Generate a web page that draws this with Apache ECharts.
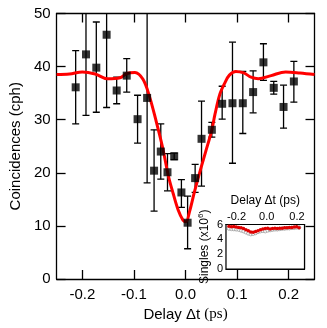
<!DOCTYPE html>
<html>
<head>
<meta charset="utf-8">
<script src="https://cdn.jsdelivr.net/npm/echarts@6/dist/echarts.min.js"></script>
<style>
html,body{margin:0;padding:0;background:#fff;}
#c{width:327px;height:328px;}
</style>
</head>
<body>
<div id="c"></div>
<script>
// ---- main data: coincidences vs delay ----
const delay = [-0.213, -0.193, -0.173, -0.153, -0.1335, -0.114, -0.093, -0.0745, -0.061, -0.048, -0.035, -0.022, -0.008, 0.004, 0.0186, 0.031, 0.051, 0.071, 0.091, 0.111, 0.131, 0.151, 0.171, 0.190, 0.210];
const coincidences = [36.1, 42.3, 39.8, 46.0, 35.5, 38.3, 30.1, 34.1, 20.4, 24.0, 20.1, 23.1, 16.3, 10.6, 19.0, 26.4, 28.1, 33.0, 33.1, 33.1, 35.2, 40.8, 36.0, 32.4, 37.2];
const errLow = [29.2, 30.8, 31.4, 32.3, 33.0, 35.2, 25.6, 18.1, 12.8, 18.8, 16.6, 22.5, 13.5, 5.7, 16.3, 17.5, 26.7, 30.1, 21.8, 27.4, 31.3, 37.4, 34.8, 28.4, 33.3];
const errHigh = [43.0, 53.8, 48.4, 59.7, 38.0, 41.5, 34.6, 50.2, 28.1, 29.2, 23.6, 23.7, 18.7, 15.6, 21.6, 33.5, 29.5, 36.3, 44.6, 39.1, 39.2, 44.3, 37.2, 36.5, 41.0];

// ---- fit curve ----
const fitDelay = [-0.25, -0.225, -0.2, -0.175, -0.151, -0.127, -0.114, -0.098, -0.0825, -0.070, -0.0577, -0.045, -0.033, -0.0237, -0.0143, -0.005, 0.001, 0.0075, 0.017, 0.029, 0.0385, 0.051, 0.057, 0.0665, 0.076, 0.085, 0.0975, 0.113, 0.127, 0.141, 0.166, 0.194, 0.222, 0.25];
const fitValue = [38.5, 38.6, 39.0, 38.6, 37.7, 37.9, 38.7, 38.9, 37.6, 34.4, 30.0, 25.0, 19.3, 16.0, 13.0, 11.1, 10.8, 12.6, 16.3, 20.6, 23.8, 28.1, 31.0, 34.8, 36.9, 38.4, 39.1, 38.8, 38.0, 37.7, 38.3, 39.0, 38.8, 38.5];

// ---- inset: singles ----
const insetDelay = [-0.25, -0.234, -0.218, -0.202, -0.186, -0.17, -0.154, -0.138, -0.122, -0.106, -0.09, -0.074, -0.058, -0.042, -0.026, -0.01, 0.006, 0.022, 0.038, 0.054, 0.07, 0.086, 0.102, 0.118, 0.134, 0.15, 0.166, 0.182, 0.198, 0.214];
const singlesRed = [5.75, 5.7, 5.72, 5.65, 5.6, 5.55, 5.45, 5.3, 5.15, 5.0, 4.95, 5.05, 5.15, 5.3, 5.4, 5.45, 5.5, 5.4, 5.45, 5.5, 5.45, 5.5, 5.5, 5.55, 5.55, 5.6, 5.6, 5.65, 5.7, 5.55];
const singlesGray = [5.45, 5.4, 5.38, 5.35, 5.3, 5.2, 5.1, 4.95, 4.8, 4.7, 4.75, 4.85, 5.0, 5.1, 5.15, 5.1, 5.2, 5.25, 5.3, 5.35, 5.35, 5.4, 5.45, 5.45, 5.5, 5.5, 5.55, 5.55, 5.6, 5.6];

const mainXTicks = [-0.2, -0.1, 0, 0.1, 0.2];
const insetXTicks = [-0.2, 0, 0.2];

const FONT = 'Liberation Sans, Arial, sans-serif';
const chart = echarts.init(document.getElementById('c'), null, {renderer: 'canvas'});

function fmt(v) { return (Math.abs(v) < 1e-9 ? 0 : v).toFixed(1); }

const errData = delay.map((d, i) => [d, errLow[i], errHigh[i]]);
const ptData = delay.map((d, i) => [d, coincidences[i]]);
const fitData = fitDelay.map((d, i) => [d, fitValue[i]]);
const redData = insetDelay.map((d, i) => [d, singlesRed[i]]);
const grayData = insetDelay.map((d, i) => [d, singlesGray[i]]);

function errRender(params, api) {
  const x = api.value(0), lo = api.value(1), hi = api.value(2);
  const a = api.coord([x, lo]), b = api.coord([x, hi]);
  const w = 3.5;
  const st = {stroke: '#000', lineWidth: 1.3};
  return {type: 'group', children: [
    {type: 'line', shape: {x1: a[0], y1: a[1], x2: b[0], y2: b[1]}, style: st},
    {type: 'line', shape: {x1: a[0] - w, y1: a[1], x2: a[0] + w, y2: a[1]}, style: st},
    {type: 'line', shape: {x1: b[0] - w, y1: b[1], x2: b[0] + w, y2: b[1]}, style: st}
  ]};
}

const axLine = {show: true, onZero: false, lineStyle: {color: '#000', width: 1.3}};
const inLine = {show: true, onZero: false, lineStyle: {color: '#000', width: 1.2}};

const option = {
  animation: false,
  backgroundColor: '#fff',
  grid: [
    {left: 48, top: 13.5, width: 266.5, height: 265.5, containLabel: false},
    {left: 226, top: 224.5, width: 78.5, height: 44.5, show: true, backgroundColor: '#fff', borderColor: '#000', borderWidth: 1.2, z: 5}
  ],
  xAxis: [
    {
      gridIndex: 0, type: 'value', min: -0.25, max: 0.25, position: 'bottom',
      axisLine: axLine,
      axisTick: {show: true, inside: true, length: 9, customValues: mainXTicks, lineStyle: {color: '#000', width: 1.3}},
      axisLabel: {show: true, customValues: mainXTicks, formatter: fmt, color: '#000', fontFamily: FONT, fontSize: 15, margin: 8},
      splitLine: {show: false},
      name: '{a|Delay \u0394t }{b|(ps)}', nameLocation: 'middle', nameGap: 27,
      nameTextStyle: {rich: {a: {fontFamily: FONT, fontSize: 15, color: '#000'}, b: {fontFamily: 'Liberation Serif, Times New Roman, serif', fontSize: 15, color: '#000'}}}
    },
    {
      gridIndex: 0, type: 'value', min: -0.25, max: 0.25, position: 'top',
      axisLine: axLine,
      axisTick: {show: true, inside: true, length: 9, customValues: mainXTicks, lineStyle: {color: '#000', width: 1.3}},
      axisLabel: {show: false}, splitLine: {show: false}
    },
    {
      gridIndex: 1, type: 'value', min: -0.27, max: 0.25, position: 'top',
      axisLine: inLine,
      axisTick: {show: true, inside: true, length: 3, customValues: insetXTicks, lineStyle: {color: '#000'}},
      axisLabel: {show: true, customValues: insetXTicks, formatter: fmt, color: '#000', fontFamily: FONT, fontSize: 11, margin: 2},
      splitLine: {show: false},
      name: 'Delay \u0394t (ps)', nameLocation: 'middle', nameGap: 18,
      nameTextStyle: {fontFamily: FONT, fontSize: 12, color: '#000'}
    },
    {
      gridIndex: 1, type: 'value', min: -0.27, max: 0.25, position: 'bottom',
      axisLine: inLine,
      axisTick: {show: true, inside: true, length: 3, customValues: insetXTicks, lineStyle: {color: '#000'}},
      axisLabel: {show: false}, splitLine: {show: false}
    }
  ],
  yAxis: [
    {
      gridIndex: 0, type: 'value', min: 0, max: 50, interval: 10, position: 'left',
      axisLine: axLine,
      axisTick: {show: true, inside: true, length: 9, lineStyle: {color: '#000', width: 1.3}},
      axisLabel: {color: '#000', fontFamily: FONT, fontSize: 15, margin: 6},
      splitLine: {show: false},
      name: 'Coincidences (cph)', nameLocation: 'middle', nameGap: 29,
      nameTextStyle: {fontFamily: FONT, fontSize: 15, color: '#000'}
    },
    {
      gridIndex: 0, type: 'value', min: 0, max: 50, interval: 10, position: 'right',
      axisLine: axLine,
      axisTick: {show: true, inside: true, length: 9, lineStyle: {color: '#000', width: 1.3}},
      axisLabel: {show: false}, splitLine: {show: false}
    },
    {
      gridIndex: 1, type: 'value', min: 0, max: 6, interval: 2, position: 'left',
      axisLine: inLine,
      axisTick: {show: true, inside: true, length: 3, lineStyle: {color: '#000'}},
      axisLabel: {color: '#000', fontFamily: FONT, fontSize: 11, margin: 3},
      splitLine: {show: false},
      name: '{a|Singles (x10}{s|6}{a|)}', nameLocation: 'middle', nameGap: 13,
      nameTextStyle: {rich: {a: {fontFamily: FONT, fontSize: 12, color: '#000'}, s: {fontFamily: FONT, fontSize: 8, color: '#000', padding: [0, 0, 8, 0]}}}
    },
    {
      gridIndex: 1, type: 'value', min: 0, max: 6, interval: 2, position: 'right',
      axisLine: inLine,
      axisTick: {show: false}, axisLabel: {show: false}, splitLine: {show: false}
    }
  ],
  series: [
    {
      type: 'custom', xAxisIndex: 0, yAxisIndex: 0, renderItem: errRender, data: errData, clip: true, z: 2
    },
    {
      type: 'line', xAxisIndex: 0, yAxisIndex: 0, data: fitData, smooth: 0.35, showSymbol: false,
      lineStyle: {color: '#ff0000', width: 3}, z: 3, clip: true
    },
    {
      type: 'scatter', xAxisIndex: 0, yAxisIndex: 0, data: ptData, symbol: 'rect', symbolSize: 8,
      itemStyle: {color: '#000'}, z: 4
    },
    {
      type: 'scatter', xAxisIndex: 2, yAxisIndex: 2, data: grayData, symbol: 'circle', symbolSize: 3.5,
      itemStyle: {color: '#fff', borderColor: '#888', borderWidth: 0.8}, z: 6
    },
    {
      type: 'line', xAxisIndex: 2, yAxisIndex: 2, data: redData, symbol: 'circle', symbolSize: 3.5, showSymbol: true,
      itemStyle: {color: '#e00000'}, lineStyle: {color: '#e00000', width: 1}, z: 7
    }
  ]
};
chart.setOption(option);
</script>
</body>
</html>
